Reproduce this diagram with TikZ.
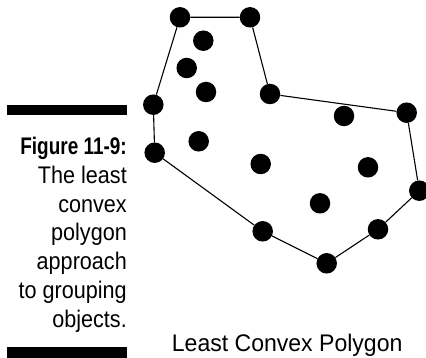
\documentclass[tikz,border=0pt]{standalone}
\usepackage{fontspec}
\setmainfont{Liberation Sans}[FakeStretch=0.9]
\newfontfamily\capboldfont{Liberation Sans}[FakeStretch=0.79]
\newfontfamily\labelfont{Liberation Sans}[FakeStretch=0.96]
\begin{document}
\begin{tikzpicture}[x=1pt,y=-1pt]
\tikzset{
  dot/.style={circle,fill=black,draw=none,minimum size=20.5pt,inner sep=0pt},
  edge/.style={line width=1.1pt,black},
  captxt/.style={anchor=base east,inner sep=0pt,font=\fontsize{24pt}{28pt}\selectfont},
  capbold/.style={anchor=base east,inner sep=0pt,font=\fontsize{24pt}{28pt}\selectfont\capboldfont\bfseries},
  labeltxt/.style={anchor=base west,inner sep=0pt,font=\fontsize{24pt}{28pt}\selectfont\labelfont}
}
\useasboundingbox (0,0) rectangle (426,358);
% bars
\fill[black] (7,105) rectangle (127,115.5);
\fill[black] (7,347.3) rectangle (127,358);
% caption
\node[capbold] (c1) at (127,155) {Figure 11-9:};
\node[captxt] (c2) at (127,183.7) {The least};
\node[captxt] (c3) at (127,212.3) {convex};
\node[captxt] (c4) at (127,241) {polygon};
\node[captxt] (c5) at (127,269.7) {approach};
\node[captxt] (c6) at (127,298.3) {to grouping};
\node[captxt] (c7) at (127,327) {objects.};
% dots
\node[dot] (d1) at (180,17.3) {};
\node[dot] (d2) at (250,17.3) {};
\node[dot] (d3) at (203.3,40.7) {};
\node[dot] (d4) at (186.7,68) {};
\node[dot] (d5) at (206,92) {};
\node[dot] (d6) at (270,94) {};
\node[dot] (d7) at (153.3,104.7) {};
\node[dot] (d8) at (344,116) {};
\node[dot] (d9) at (406.7,112.7) {};
\node[dot] (d10) at (198.7,141.3) {};
\node[dot] (d11) at (154.7,152.7) {};
\node[dot] (d12) at (260.7,164) {};
\node[dot] (d13) at (368,167.3) {};
\node[dot] (d14) at (419.3,190.7) {};
\node[dot] (d15) at (320,203.3) {};
\node[dot] (d16) at (378,229.3) {};
\node[dot] (d17) at (262.7,231.3) {};
\node[dot] (d18) at (326.7,263.3) {};
% hull
\draw[edge] (d1) -- (d2) -- (d6) -- (d9) -- (d14) -- (d16) -- (d18) -- (d17) -- (d11) -- (d7) -- (d1);
% label
\node[labeltxt] (lbl) at (171.7,351.3) {Least Convex Polygon};
\end{tikzpicture}
\end{document}
